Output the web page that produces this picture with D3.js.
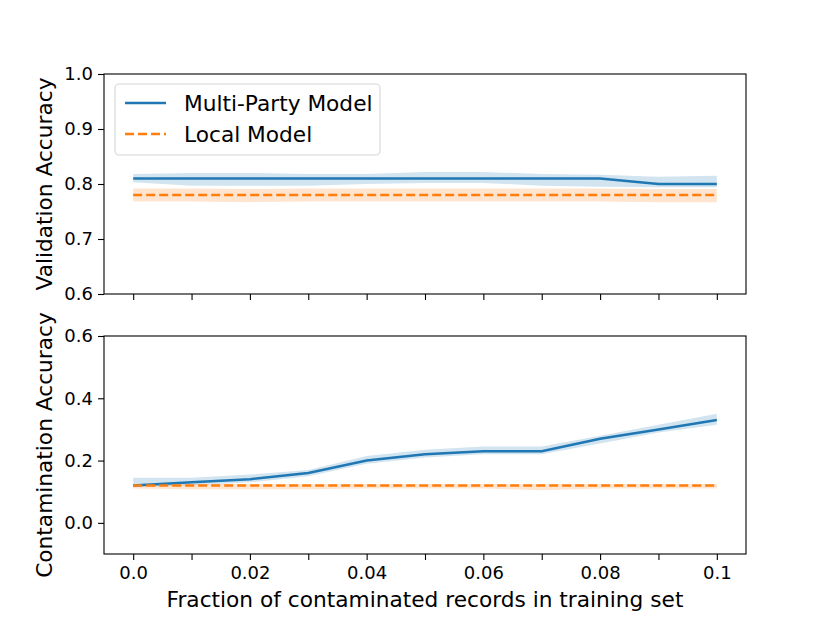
<!DOCTYPE html>
<html>
<head>
<meta charset="utf-8">
<script src="https://cdn.jsdelivr.net/npm/d3@7/dist/d3.min.js"></script>
<style>
  body { margin: 0; background: #fff; }
  text { font-family: "DejaVu Sans", sans-serif; fill: #000; }
</style>
</head>
<body>
<div id="chart"></div>
<script>
// fraction of contaminated records
const FRACTIONS = [0, 0.01, 0.02, 0.03, 0.04, 0.05, 0.06, 0.07, 0.08, 0.09, 0.1];
const X_TICK_LABELS = ["0.0", "0.02", "0.04", "0.06", "0.08", "0.1"];

// validation accuracy
const VAL_MULTI = [0.81, 0.81, 0.81, 0.81, 0.81, 0.81, 0.81, 0.81, 0.81, 0.80, 0.80];
const VAL_MULTI_LO = [0.803, 0.797, 0.797, 0.797, 0.800, 0.802, 0.802, 0.797, 0.795, 0.794, 0.794];
const VAL_MULTI_HI = [0.818, 0.820, 0.820, 0.818, 0.818, 0.822, 0.822, 0.818, 0.817, 0.813, 0.815];
const VAL_LOCAL = [0.78, 0.78, 0.78, 0.78, 0.78, 0.78, 0.78, 0.78, 0.78, 0.78, 0.78];
const VAL_LOCAL_LO = [0.768, 0.768, 0.767, 0.768, 0.768, 0.768, 0.768, 0.768, 0.768, 0.767, 0.767];
const VAL_LOCAL_HI = [0.792, 0.792, 0.791, 0.792, 0.792, 0.792, 0.792, 0.792, 0.792, 0.791, 0.791];

// contamination accuracy
const CON_MULTI = [0.12, 0.13, 0.14, 0.16, 0.20, 0.22, 0.23, 0.23, 0.27, 0.30, 0.33];
const CON_MULTI_LO = [0.115, 0.12, 0.13, 0.15, 0.19, 0.21, 0.22, 0.22, 0.255, 0.29, 0.315];
const CON_MULTI_HI = [0.145, 0.145, 0.155, 0.17, 0.215, 0.235, 0.245, 0.245, 0.28, 0.315, 0.35];
const CON_LOCAL = [0.12, 0.12, 0.12, 0.12, 0.12, 0.12, 0.12, 0.12, 0.12, 0.12, 0.12];
const CON_LOCAL_LO = [0.11, 0.108, 0.108, 0.108, 0.11, 0.11, 0.11, 0.105, 0.11, 0.11, 0.11];
const CON_LOCAL_HI = [0.125, 0.125, 0.125, 0.125, 0.125, 0.125, 0.125, 0.125, 0.125, 0.125, 0.125];

const BLUE = "#1f77b4";
const ORANGE = "#ff7f0e";

const width = 830;
const height = 623;
const left = 104, right = 746;

const svg = d3.select('#chart').append('svg')
  .attr('width', width)
  .attr('height', height);

const x = d3.scaleLinear()
  .domain([-0.005, 0.105])
  .range([left, right]);

const panels = [
  { top: 74, bottom: 294, domain: [0.6, 1.0], ticks: [0.6, 0.7, 0.8, 0.9, 1.0], fmt: d3.format(".1f"),
    label: "Validation Accuracy", multi: VAL_MULTI, mlo: VAL_MULTI_LO, mhi: VAL_MULTI_HI,
    local: VAL_LOCAL, llo: VAL_LOCAL_LO, lhi: VAL_LOCAL_HI, xlabels: false },
  { top: 336, bottom: 554, domain: [-0.1, 0.6], ticks: [0.0, 0.2, 0.4, 0.6], fmt: d3.format(".1f"),
    label: "Contamination Accuracy", multi: CON_MULTI, mlo: CON_MULTI_LO, mhi: CON_MULTI_HI,
    local: CON_LOCAL, llo: CON_LOCAL_LO, lhi: CON_LOCAL_HI, xlabels: true }
];

panels.forEach(function(p) {
  const y = d3.scaleLinear().domain(p.domain).range([p.bottom, p.top]);
  const g = svg.append('g');

  const area = (lo, hi) => d3.area()
    .x((d, i) => x(FRACTIONS[i]))
    .y0((d, i) => y(lo[i]))
    .y1((d, i) => y(hi[i]))(FRACTIONS);
  const line = vals => d3.line()
    .x((d, i) => x(FRACTIONS[i]))
    .y((d, i) => y(vals[i]))(FRACTIONS);

  g.append('path').attr('d', area(p.mlo, p.mhi))
    .attr('fill', BLUE).attr('fill-opacity', 0.2);
  g.append('path').attr('d', area(p.llo, p.lhi))
    .attr('fill', ORANGE).attr('fill-opacity', 0.2);
  g.append('path').attr('d', line(p.multi))
    .attr('fill', 'none').attr('stroke', BLUE).attr('stroke-width', 2.5);
  g.append('path').attr('d', line(p.local))
    .attr('fill', 'none').attr('stroke', ORANGE).attr('stroke-width', 2.5)
    .attr('stroke-dasharray', '9,4');

  // frame
  g.append('rect')
    .attr('x', left).attr('y', p.top)
    .attr('width', right - left).attr('height', p.bottom - p.top)
    .attr('fill', 'none').attr('stroke', '#000').attr('stroke-width', 1.1);

  const yAxis = d3.axisLeft(y).tickValues(p.ticks).tickFormat(p.fmt)
    .tickSize(6).tickPadding(5);
  const ya = g.append('g').attr('transform', `translate(${left},0)`).call(yAxis);
  ya.select('.domain').remove();
  ya.selectAll('text').style('font-size', '18px').attr('font-family', 'DejaVu Sans');
  ya.selectAll('line').attr('stroke-width', 1.1);

  const xAxis = d3.axisBottom(x).tickValues(FRACTIONS)
    .tickFormat((d, i) => (p.xlabels && i % 2 === 0) ? X_TICK_LABELS[i / 2] : "")
    .tickSize(6).tickPadding(6);
  const xa = g.append('g').attr('transform', `translate(0,${p.bottom})`).call(xAxis);
  xa.select('.domain').remove();
  xa.selectAll('text').style('font-size', '18px').attr('font-family', 'DejaVu Sans');
  xa.selectAll('line').attr('stroke-width', 1.1);

  svg.append('text')
    .attr('transform', `translate(52,${(p.top + p.bottom) / 2}) rotate(-90)`)
    .attr('text-anchor', 'middle')
    .style('font-size', '21.7px')
    .text(p.label);
});

svg.append('text')
  .attr('x', (left + right) / 2)
  .attr('y', 607)
  .attr('text-anchor', 'middle')
  .style('font-size', '21.7px')
  .text("Fraction of contaminated records in training set");

// legend
const lg = svg.append('g');
lg.append('rect')
  .attr('x', 115).attr('y', 84).attr('width', 265).attr('height', 71)
  .attr('rx', 4).attr('fill', '#fff').attr('fill-opacity', 0.8)
  .attr('stroke', '#d6d6d6').attr('stroke-width', 1.1);
const legendItems = [
  { name: "Multi-Party Model", color: BLUE, dash: null, y: 103 },
  { name: "Local Model", color: ORANGE, dash: '9,4', y: 134 }
];
legendItems.forEach(function(d) {
  lg.append('line')
    .attr('x1', 125).attr('x2', 166).attr('y1', d.y).attr('y2', d.y)
    .attr('stroke', d.color).attr('stroke-width', 2.5)
    .attr('stroke-dasharray', d.dash);
  lg.append('text')
    .attr('x', 184).attr('y', d.y).attr('dy', '0.35em')
    .style('font-size', '21.7px')
    .text(d.name);
});
</script>
</body>
</html>
